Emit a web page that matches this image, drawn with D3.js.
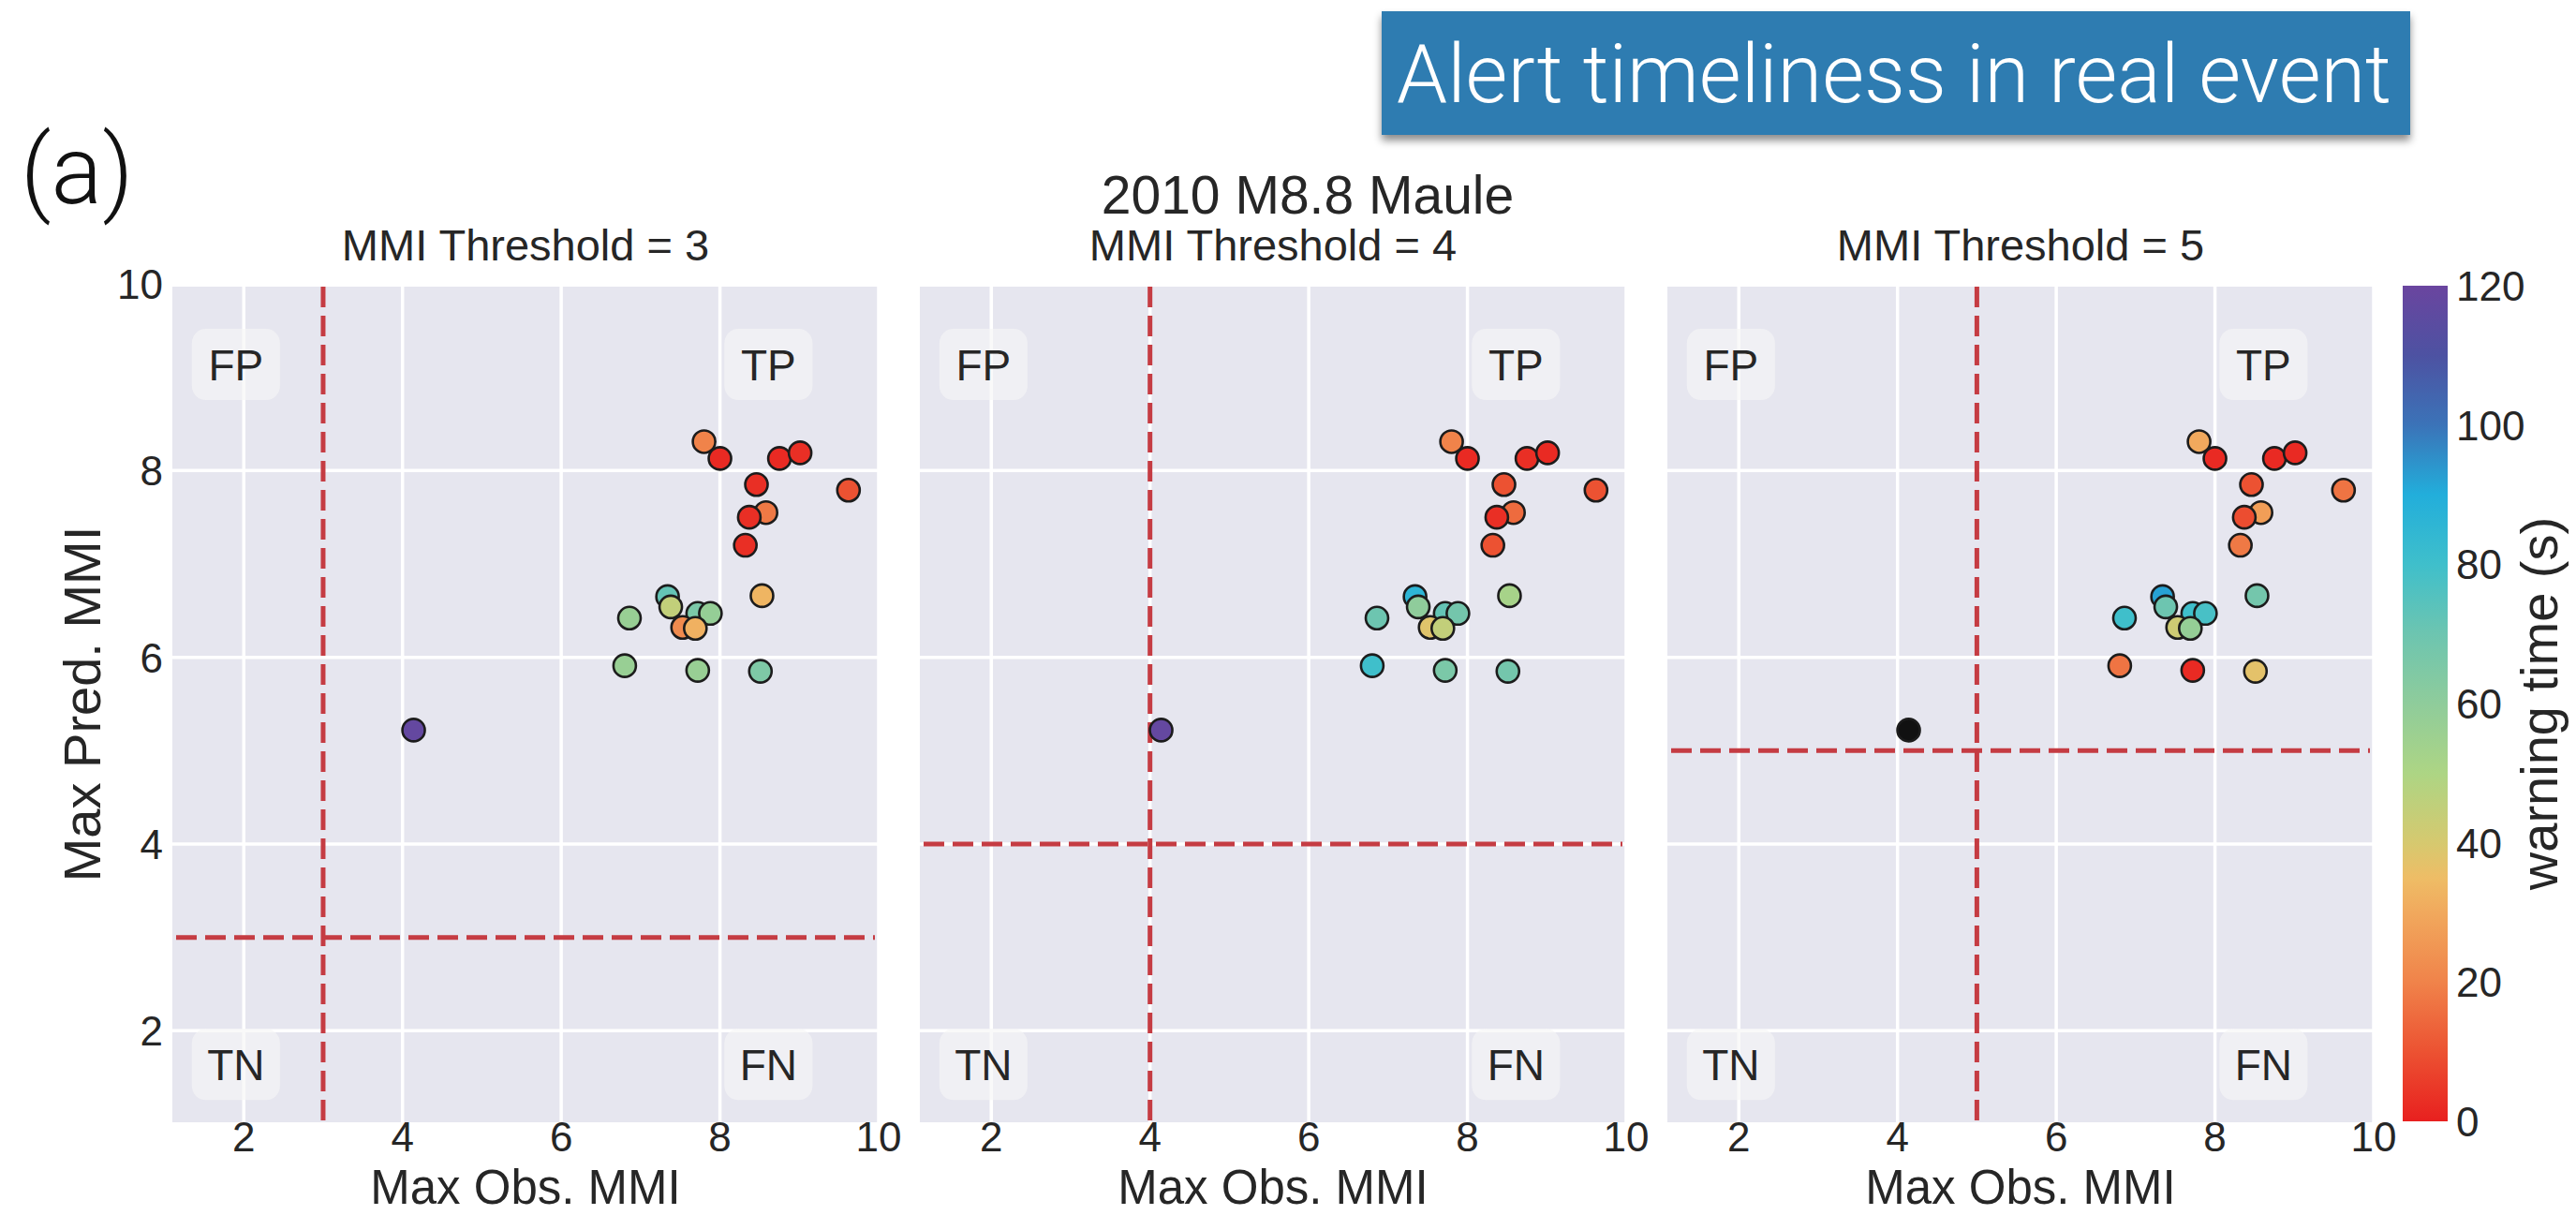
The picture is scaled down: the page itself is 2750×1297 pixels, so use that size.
<!DOCTYPE html>
<html>
<head>
<meta charset="utf-8">
<script src="https://cdn.jsdelivr.net/npm/d3@7"></script>
<style>
  html, body { margin: 0; padding: 0; background: #fff; }
  svg { display: block; }
  text { font-family: "Liberation Sans", Arial, Helvetica, sans-serif; fill: #262626; }
</style>
</head>
<body>
<svg id="fig" width="2750" height="1297"></svg>
<script>
// Stations: maximum observed vs. maximum predicted MMI
const maxObsMMI  = [7.80, 8.00, 8.75, 9.01, 9.62, 8.46, 8.58, 8.37, 8.32, 8.53, 8.51, 7.72, 6.80, 6.86, 7.34, 7.38, 7.72, 7.88, 7.53, 7.69, 4.14];
const maxPredMMI = [8.31, 8.13, 8.13, 8.19, 7.79, 7.85, 7.55, 7.50, 7.20, 6.66, 5.85, 5.86, 5.91, 6.42, 6.65, 6.54, 6.47, 6.47, 6.32, 6.31, 5.22];

// Warning time (s) per station for each alert threshold (null = no alert issued)
const warningT3 = [20, 2, 2, 3, 10, 3, 18, 3, 3, 33, 65, 57, 57, 57, 72, 45, 66, 58, 22, 32, 118];
const warningT4 = [20, 2, 3, 2, 10, 10, 15, 3, 10, 52, 68, 66, 80, 70, 86, 60, 72, 68, 38, 45, 118];
const warningT5 = [30, 2, 2, 2, 17, 10, 27, 9, 18, 68, 37, 2, 17, 80, 92, 70, 80, 78, 42, 58, null];

const thresholds = [3, 4, 5];
const panelTitles = ["MMI Threshold = 3", "MMI Threshold = 4", "MMI Threshold = 5"];
const xTicks = [2, 4, 6, 8, 10];
const yTicks = [2, 4, 6, 8, 10];
const cbarTicks = [0, 20, 40, 60, 80, 100, 120];
const quadrantNames = ["FP", "TP", "TN", "FN"];

// Colour ramp for warning time
const rampValues = [0, 10, 20, 30, 35, 40, 50, 60, 70, 80, 90, 100, 110, 120];
const rampColors = ["#e8201f", "#ec5232", "#f0834a", "#f1a95d", "#eebd66", "#d6c96f", "#add584",
                    "#8fcc9b", "#6dc5b0", "#3fbfcb", "#22aedb", "#3b73b8", "#4d52a2", "#6a459f"];

const svg = d3.select("#fig");
const warnColor = d3.scaleLinear().domain(rampValues).range(rampColors).interpolate(d3.interpolateRgb).clamp(true);

// Layout
const panelW = 754, plotTop = 303, plotBottom = 1200;
const panelLefts = [184, 982, 1780];
const y = d3.scaleLinear().domain([1, 10]).range([plotBottom, plotTop]);
const dashRed = "#c53c43";

// Overline title box
const defs = svg.append("defs");
const shadow = defs.append("filter").attr("id", "boxShadow")
  .attr("x", "-5%").attr("y", "-20%").attr("width", "110%").attr("height", "150%");
shadow.append("feDropShadow").attr("dx", 0).attr("dy", 6).attr("stdDeviation", 4)
  .attr("flood-color", "#000").attr("flood-opacity", 0.45);

svg.append("rect").attr("x", 1475).attr("y", 12).attr("width", 1098).attr("height", 132)
  .attr("fill", "#2f7cb1").attr("filter", "url(#boxShadow)");
svg.append("text").attr("x", 1491).attr("y", 109)
  .attr("textLength", 1062).attr("lengthAdjust", "spacingAndGlyphs")
  .style("font-family", "Roboto, 'Liberation Sans', sans-serif").style("font-weight", 300)
  .style("font-size", "88px").style("fill", "#ffffff")
  .text("Alert timeliness in real event");

// Panel letter
svg.append("text").attr("x", 22).attr("y", 217)
  .style("font-family", "Roboto, 'Liberation Sans', sans-serif").style("font-weight", 300)
  .style("font-size", "102px").style("fill", "#111")
  .text("(a)");

// Figure title
svg.append("text").attr("x", 1396).attr("y", 228).attr("text-anchor", "middle")
  .style("font-size", "57px").text("2010 M8.8 Maule");

const warningSets = [warningT3, warningT4, warningT5];
const stations = maxObsMMI.map((xo, i) => ({ obs: xo, pred: maxPredMMI[i], i }));

thresholds.forEach((thr, p) => {
  const left = panelLefts[p];
  const x = d3.scaleLinear().domain([1.1, 10]).range([left, left + panelW]);
  const g = svg.append("g");
  const warn = warningSets[p];

  g.append("rect").attr("x", left).attr("y", plotTop + 3).attr("width", panelW).attr("height", plotBottom - plotTop - 5)
    .attr("fill", "#e6e6ef");

  // grid
  g.selectAll(".gx").data(xTicks).join("line")
    .attr("x1", d => x(d)).attr("x2", d => x(d))
    .attr("y1", plotTop + 3).attr("y2", plotBottom - 2)
    .attr("stroke", "#fff").attr("stroke-width", 3.5);
  g.selectAll(".gy").data(yTicks).join("line")
    .attr("x1", left).attr("x2", left + panelW)
    .attr("y1", d => y(d)).attr("y2", d => y(d))
    .attr("stroke", "#fff").attr("stroke-width", 3.5);

  // quadrant tags
  const tagPos = [[0.09, 0.096], [0.844, 0.096], [0.09, 0.929], [0.844, 0.929]];
  quadrantNames.forEach((name, k) => {
    const cx = left + tagPos[k][0] * panelW;
    const cy = plotTop + tagPos[k][1] * (plotBottom - plotTop);
    g.append("rect").attr("x", cx - 47).attr("y", cy - 38).attr("width", 94).attr("height", 76)
      .attr("rx", 15).attr("fill", "#f6f6f6").attr("fill-opacity", 0.65);
    g.append("text").attr("x", cx).attr("y", cy + 17).attr("text-anchor", "middle")
      .style("font-size", "46px").text(name);
  });

  // threshold lines
  g.append("line").attr("x1", x(thr)).attr("x2", x(thr)).attr("y1", plotTop + 3).attr("y2", plotBottom - 2)
    .attr("stroke", dashRed).attr("stroke-width", 5).attr("stroke-dasharray", "22 9");
  g.append("line").attr("x1", left + 4).attr("x2", left + panelW - 4).attr("y1", y(thr)).attr("y2", y(thr))
    .attr("stroke", dashRed).attr("stroke-width", 5).attr("stroke-dasharray", "22 9");

  // stations
  g.selectAll("circle").data(stations).join("circle")
    .attr("cx", d => x(d.obs)).attr("cy", d => y(d.pred)).attr("r", 12)
    .attr("fill", d => warn[d.i] == null ? "#111111" : warnColor(warn[d.i]))
    .attr("stroke", "#1c1c1c").attr("stroke-width", 2.6);

  // x ticks
  g.selectAll(".xt").data(xTicks).join("text")
    .attr("x", d => x(d)).attr("y", 1229).attr("text-anchor", "middle")
    .style("font-size", "44px").text(d => d);

  // axis label
  g.append("text").attr("x", left + panelW / 2).attr("y", 1285).attr("text-anchor", "middle")
    .style("font-size", "51px").text("Max Obs. MMI");

  // panel title
  g.append("text").attr("x", left + panelW / 2).attr("y", 278).attr("text-anchor", "middle")
    .style("font-size", "47px").text(panelTitles[p]);

  if (p === 0) {
    g.selectAll(".yt").data(yTicks).join("text")
      .attr("x", 174).attr("y", d => y(d) + 16).attr("text-anchor", "end")
      .style("font-size", "44px").text(d => d);
    g.append("text").attr("transform", `translate(107,${(plotTop + plotBottom) / 2}) rotate(-90)`)
      .attr("text-anchor", "middle").style("font-size", "56px").text("Max Pred. MMI");
  }
});

// Colour bar
const cbX = 2565, cbW = 48, cbTop = 305, cbBottom = 1197;
const cb = d3.scaleLinear().domain([0, 120]).range([cbBottom, cbTop]);
const grad = defs.append("linearGradient").attr("id", "warnGrad")
  .attr("x1", 0).attr("y1", 1).attr("x2", 0).attr("y2", 0);
rampValues.forEach(v => {
  grad.append("stop").attr("offset", v / 120).attr("stop-color", warnColor(v));
});
svg.append("rect").attr("x", cbX).attr("y", cbTop).attr("width", cbW).attr("height", cbBottom - cbTop)
  .attr("fill", "url(#warnGrad)");
svg.selectAll(".cbt").data(cbarTicks).join("text")
  .attr("x", cbX + cbW + 9).attr("y", d => cb(d) + 16)
  .style("font-size", "44px").text(d => d);
svg.append("text").attr("transform", `translate(2730,${(cbTop + cbBottom) / 2}) rotate(-90)`)
  .attr("text-anchor", "middle").style("font-size", "56px").text("warning time (s)");
</script>
</body>
</html>
